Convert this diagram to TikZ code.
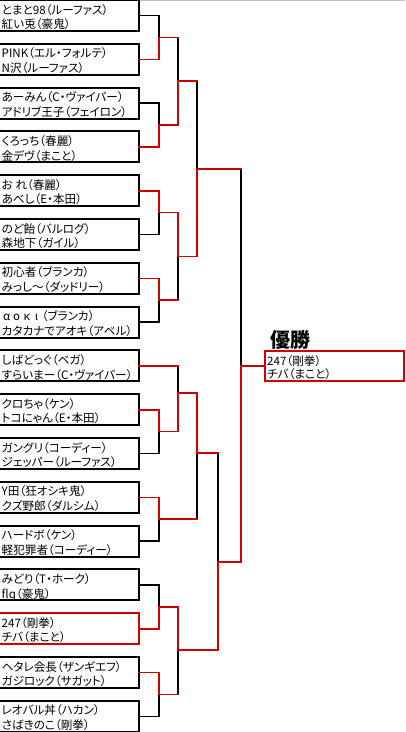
\documentclass[tikz,border=0pt]{standalone}
\usepackage{fontspec}
\setmainfont{Noto Sans CJK JP}[RawFeature=+palt]
\definecolor{wred}{RGB}{204,0,0}
\tikzset{
  entry/.style={draw=black, line width=1.9pt, minimum width=140pt, minimum height=31pt,
    inner sep=0pt, outer sep=0pt, anchor=north west},
  nm/.style={anchor=base west, inner sep=0pt, font=\fontsize{11.6}{13}\selectfont},
  bl/.style={draw=black, line width=1.6pt, line cap=rect, line join=miter},
  rd/.style={draw=wred, line width=1.6pt, line cap=rect, line join=miter},
}
\newcommand{\gk}[1]{\makebox[10pt][c]{#1}}
\newcommand{\ebox}[4][black]{%
  \node[entry, draw=#1] (b#2) at (-1,{43.8*#2}) {};
  \node[nm] (b#2a) at (1.5,{43.8*#2+14}) {#3};
  \node[nm] (b#2b) at (1.5,{43.8*#2+28.6}) {#4};
}
\begin{document}
\begin{tikzpicture}[x=1pt,y=-1pt]
\useasboundingbox (0,0) rectangle (405,732);
\coordinate (tl) at (0,0.4);
\coordinate (tr) at (405,0.4);
\draw[black!25, line width=0.8pt] (tl) -- (tr);

\ebox{0}{とまと98（ルーファス）}{紅い兎（豪鬼）}
\ebox{1}{PINK（エル・フォルテ）}{N沢（ルーファス）}
\ebox{2}{あーみん（C・ヴァイパー）}{アドリブ王子（フェイロン）}
\ebox{3}{くろっち（春麗）}{金デヴ（まこと）}
\ebox{4}{お れ（春麗）}{あべし（E・本田）}
\ebox{5}{のど飴（バルログ）}{森地下（ガイル）}
\ebox{6}{初心者（ブランカ）}{みっし～（ダッドリー）}
\ebox{7}{\gk{α}\gk{ο}\gk{κ}\gk{ι}（ブランカ）}{カタカナでアオキ（アベル）}
\ebox{8}{しばどっぐ（ベガ）}{すらいまー（C・ヴァイパー）}
\ebox{9}{クロちゃ（ケン）}{トコにゃん（E・本田）}
\ebox{10}{ガングリ（コーディー）}{ジェッパー（ルーファス）}
\ebox{11}{Y田（狂オシキ鬼）}{クズ野郎（ダルシム）}
\ebox{12}{ハードボ（ケン）}{軽犯罪者（コーディー）}
\ebox{13}{みどり（T・ホーク）}{flq（豪鬼）}
\ebox[wred]{14}{247（剛拳）}{チバ（まこと）}
\ebox{15}{ヘタレ会長（ザンギエフ）}{ガジロック（サガット）}
\ebox{16}{レオバル丼（ハカン）}{さばきのこ（剛拳）}

% champion
\node[entry, draw=wred, minimum width=139pt, minimum height=30pt] (champ) at (265,351) {};
\node[nm] (ca) at (267,365) {247（剛拳）};
\node[nm] (cb) at (267,378.4) {チバ（まこと）};
\node[anchor=base west, inner sep=0pt, font=\fontsize{20}{22}\selectfont\bfseries] (title) at (270.5,347.6) {優勝};

% junctions
\coordinate (mA) at (159,37.4);
\coordinate (mB) at (159,125);
\coordinate (mC) at (178,81.2);
\coordinate (mD) at (159,212.6);
\coordinate (mE) at (159,300.2);
\coordinate (mF) at (178,256.4);
\coordinate (mG) at (197,169);
\coordinate (mH) at (159,431.6);
\coordinate (mI) at (178,393);
\coordinate (mJ) at (159,519.2);
\coordinate (mK) at (197,453);
\coordinate (mL) at (159,606.8);
\coordinate (mM) at (159,694.4);
\coordinate (mN) at (178,650);
\coordinate (mO) at (218,562);
\coordinate (mP) at (241,366);

% losing paths
\draw[bl] (b0.east) -| (mA);
\draw[bl] (b2.east) -| (mB);
\draw[bl] (mA -| mC) -- (mC);
\draw[bl] (b5.east) -| (mD);
\draw[bl] (b7.east) -| (mE);
\draw[bl] (mE -| mF) -- (mF);
\draw[bl] (mC -| mG) -- (mG);
\draw[bl] (b10.east) -| (mH);
\draw[bl] (b8.east -| mI) -- (mI);
\draw[bl] (b12.east) -| (mJ);
\draw[bl] (mJ -| mK) -- (mK);
\draw[bl] (b13.east) -| (mL);
\draw[bl] (b16.east) -| (mM);
\draw[bl] (mM -| mN) -- (mN);
\draw[bl] (mK -| mO) -- (mO);
\draw[bl] (mG -| mP) -- (mP);

% winning paths
\draw[rd] (b1.east) -| (mA);
\draw[rd] (mA) -- (mA -| mC);
\draw[rd] (b3.east) -| (mB);
\draw[rd] (mB) -| (mC);
\draw[rd] (mC) -- (mC -| mG);
\draw[rd] (b4.east) -| (mD);
\draw[rd] (mD) -| (mF);
\draw[rd] (b6.east) -| (mE);
\draw[rd] (mE) -- (mE -| mF);
\draw[rd] (mF) -| (mG);
\draw[rd] (mG) -- (mG -| mP);
\draw[rd] (b8.east) -- (b8.east -| mI);
\draw[rd] (b9.east) -| (mH);
\draw[rd] (mH) -| (mI);
\draw[rd] (mI) -| (mK);
\draw[rd] (b11.east) -| (mJ);
\draw[rd] (mJ) -- (mJ -| mK);
\draw[rd] (mK) -- (mK -| mO);
\draw[rd] (b14.east) -| (mL);
\draw[rd] (mL) -| (mN);
\draw[rd] (b15.east) -| (mM);
\draw[rd] (mM) -- (mM -| mN);
\draw[rd] (mN) -| (mO);
\draw[rd] (mO) -| (mP);
\draw[rd] (mP) -- (champ.west);
\end{tikzpicture}
\end{document}
